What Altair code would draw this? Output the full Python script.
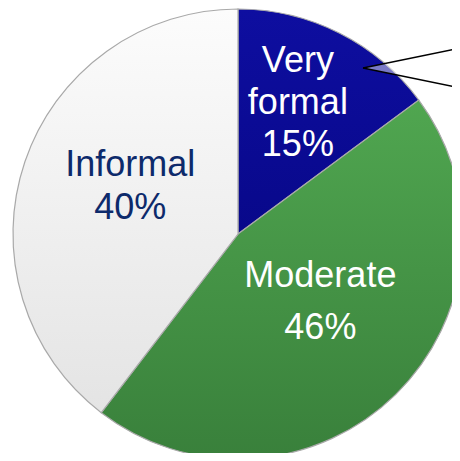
import altair as alt
import pandas as pd

categories = ["Very formal", "Moderate", "Informal"]
values = [15, 46, 40]
labels = ["Very\nformal\n15%", "Moderate\n46%", "Informal\n40%"]
order_idx = [0, 1, 2]

df = pd.DataFrame({"cat": categories, "value": values, "label": labels, "idx": order_idx})

CX, CY, R = 230, 226, 225
FONT = "Liberation Sans"

base = alt.Chart(df).encode(
    theta=alt.Theta("value:Q", stack=True),
    order=alt.Order("idx:Q"),
)

def grad(c1, c2):
    return alt.Gradient(
        gradient="linear",
        stops=[alt.GradientStop(offset=0, color=c1), alt.GradientStop(offset=1, color=c2)],
        x1=0, y1=0, x2=0, y2=1,
    )

slice_fills = {
    "Very formal": grad("#0e0ea0", "#08088a"),
    "Moderate": grad("#50a650", "#39803b"),
    "Informal": grad("#fcfcfc", "#e4e4e4"),
}

layers = []
for c, g in slice_fills.items():
    layers.append(
        base.mark_arc(x=CX, y=CY, radius=R, fill=g, stroke="#a9a9a9", strokeWidth=1.2).encode(
            opacity=alt.condition(f"datum.cat == '{c}'", alt.value(1), alt.value(0))
        )
    )

text_specs = [
    ("Very formal", 142, -4, -46, "white", 42),
    ("Moderate", 106, 8, -34, "white", 52),
    ("Informal", 118, 4, -31, "#0d2a6b", 43),
]
for c, r, dx, dy, col, lh in text_specs:
    layers.append(
        base.mark_text(
            x=CX, y=CY, radius=r, dx=dx, dy=dy, font=FONT, fontSize=36, color=col,
            lineBreak="\n", lineHeight=lh, align="center", baseline="middle",
        ).encode(
            text=alt.condition(f"datum.cat == '{c}'", alt.Text("label:N"), alt.value(""))
        )
    )

one = alt.Chart(pd.DataFrame({"a": [0]}))
callout_fill = one.mark_point(
    shape="M0,0L1,-0.206L1,0.206Z", size=4 * 97 * 97, filled=True,
    fill="white", fillOpacity=0.45, strokeWidth=0,
).encode(x=alt.value(355), y=alt.value(60))
callout1 = one.mark_rule(color="black", strokeWidth=1.5).encode(
    x=alt.value(355), y=alt.value(60), x2=alt.value(452), y2=alt.value(40)
)
callout2 = one.mark_rule(color="black", strokeWidth=1.5).encode(
    x=alt.value(355), y=alt.value(60), x2=alt.value(452), y2=alt.value(80)
)
layers += [callout_fill, callout1, callout2]

chart = alt.layer(*layers).properties(
    width=444, height=445, padding=0, autosize=alt.AutoSizeParams(type="none"), background="white"
).configure_view(stroke=None)

chart.save("out.html", embed_options={"renderer": "svg", "actions": False})
